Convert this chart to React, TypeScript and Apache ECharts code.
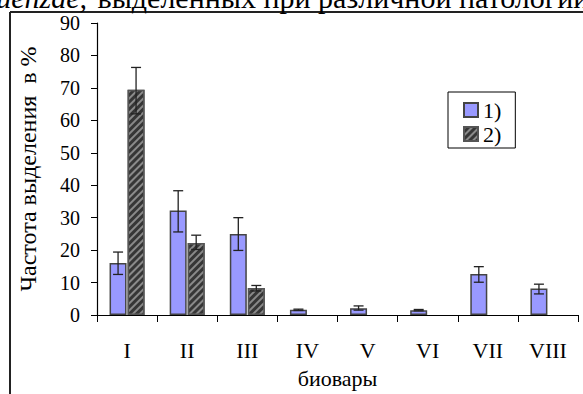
import React, { useEffect, useRef } from "react";
import * as echarts from "echarts";

const categories = ["I", "II", "III", "IV", "V", "VI", "VII", "VIII"];
const series1 = [16, 32.2, 25, 1.6, 2.1, 1.5, 12.6, 8.2];
const series1Low = [12.5, 25.6, 19.9, 1.4, 1.5, 1.3, 10.1, 6.5];
const series1High = [19.4, 38.3, 30, 1.8, 2.8, 1.7, 14.9, 9.5];
const series2 = [69.4, 22.2, 8.3, null, null, null, null, null];
const series2Low = [62, 20.2, 7.4, null, null, null, null, null];
const series2High = [76.3, 24.6, 9.1, null, null, null, null, null];
const legendNames = ["1)", "2)"];
const yTitle = "Частота выделения  в %";
const xTitle = "биовары";
const captionItalic = "influenzae,";
const captionText = " выделенных при различной патологии";

const FONT = "'Liberation Serif', 'Times New Roman', serif";
const BAR_W = 17;
const HALF_OFFSET = 9;

export default function App() {
  const ref = useRef<HTMLDivElement>(null);
  useEffect(() => {
    if (!ref.current) return;
    const chart = echarts.init(ref.current, null, { renderer: "svg" });

    const errData: any[] = [];
    series1.forEach((_, i) => {
      if (series1Low[i] != null) errData.push([i, series1Low[i], series1High[i], -1]);
      if (series2Low[i] != null) errData.push([i, series2Low[i], series2High[i], 1]);
    });

    const option: any = {
      animation: false,
      backgroundColor: "#ffffff",
      textStyle: { fontFamily: FONT, color: "#000" },
      grid: { left: 97, top: 23, right: 5, bottom: 77, containLabel: false },
      legend: {
        data: legendNames,
        orient: "vertical",
        left: 448,
        top: 92,
        padding: [7, 14, 3, 15],
        itemWidth: 14,
        itemHeight: 14,
        itemGap: 2,
        borderColor: "#000",
        borderWidth: 1,
        icon: "rect",
        textStyle: { fontFamily: FONT, fontSize: 22, color: "#000", lineHeight: 22 },
      },
      xAxis: {
        type: "category",
        data: categories,
        axisLine: { show: true, lineStyle: { color: "#000", width: 1.2 } },
        axisTick: { show: true, length: 7, alignWithLabel: false, lineStyle: { color: "#000" } },
        axisLabel: { fontFamily: FONT, fontSize: 22, color: "#000", margin: 24 },
        name: xTitle,
        nameLocation: "middle",
        nameGap: 52,
        nameTextStyle: { fontFamily: FONT, fontSize: 22, color: "#000" },
        splitLine: { show: false },
      },
      yAxis: {
        type: "value",
        min: 0,
        max: 90,
        interval: 10,
        axisLine: { show: true, lineStyle: { color: "#000", width: 1.2 } },
        axisTick: { show: true, length: 6, inside: false, lineStyle: { color: "#000" } },
        axisLabel: { fontFamily: FONT, fontSize: 20, color: "#000", margin: 17 },
        splitLine: { show: false },
        name: yTitle,
        nameLocation: "middle",
        nameRotate: 90,
        nameGap: 57,
        nameTextStyle: { fontFamily: FONT, fontSize: 24, color: "#000" },
      },
      series: [
        {
          name: legendNames[0],
          type: "bar",
          data: series1,
          barWidth: BAR_W,
          barGap: "6%",
          itemStyle: { color: "#9999ff", borderColor: "#444", borderWidth: 1.5 },
        },
        {
          name: legendNames[1],
          type: "bar",
          data: series2,
          barWidth: BAR_W,
          barGap: "6%",
          itemStyle: {
            color: "#363636",
            borderColor: "#555",
            borderWidth: 1.5,
            decal: {
              symbol: "rect",
              symbolSize: 1,
              color: "#8a8a8a",
              dashArrayX: [1, 0],
              dashArrayY: [2, 3],
              rotation: -Math.PI / 4,
            },
          },
        },
        {
          type: "custom",
          data: errData,
          z: 10,
          encode: { x: 0, y: [1, 2] },
          renderItem: (params: any, api: any) => {
            const idx = api.value(0);
            const lo = api.coord([idx, api.value(1)]);
            const hi = api.coord([idx, api.value(2)]);
            const x = lo[0] + api.value(3) * HALF_OFFSET;
            const cap = 5;
            const style = { stroke: "#222", lineWidth: 1.3 };
            return {
              type: "group",
              children: [
                { type: "line", shape: { x1: x, y1: lo[1], x2: x, y2: hi[1] }, style },
                { type: "line", shape: { x1: x - cap, y1: hi[1], x2: x + cap, y2: hi[1] }, style },
                { type: "line", shape: { x1: x - cap, y1: lo[1], x2: x + cap, y2: lo[1] }, style },
              ],
            };
          },
        },
      ],
      graphic: [
        {
          type: "line",
          shape: { x1: 10, y1: 12, x2: 583, y2: 12 },
          style: { stroke: "#222", lineWidth: 2 },
        },
        {
          type: "line",
          shape: { x1: 10, y1: 12, x2: 10, y2: 394 },
          style: { stroke: "#222", lineWidth: 2 },
        },
        {
          type: "text",
          x: 87,
          y: 12,
          style: {
            text: captionItalic,
            font: `italic 30px ${FONT}`,
            fill: "#000",
            align: "right",
            verticalAlign: "bottom",
          },
        },
        {
          type: "text",
          x: 90,
          y: 12,
          style: {
            text: captionText,
            font: `30px ${FONT}`,
            fill: "#000",
            align: "left",
            verticalAlign: "bottom",
          },
        },
      ],
    };
    chart.setOption(option);
    return () => chart.dispose();
  }, []);

  return (
    <div
      ref={ref}
      style={{ position: "fixed", left: 0, top: 0, width: 583, height: 394, background: "#fff" }}
    />
  );
}
